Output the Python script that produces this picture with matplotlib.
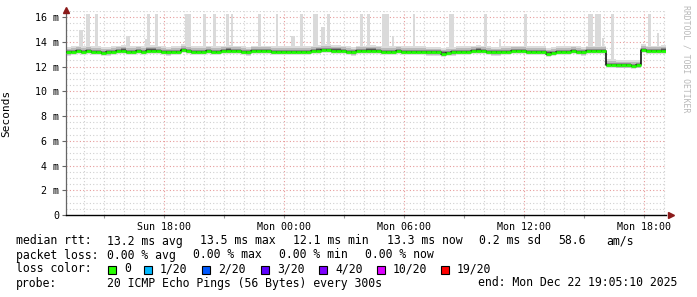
import numpy as np
import matplotlib
matplotlib.use("Agg")
import matplotlib.pyplot as plt
import matplotlib.dates as mdates
from matplotlib.patches import Rectangle
from datetime import datetime, timedelta

# --- data ---
start = datetime(2025, 12, 21, 13, 5, 10)
end = datetime(2025, 12, 22, 19, 5, 10)
step_min = 15

# median rtt per 15 min step (ms)
median_ms = [
    13.15, 13.2, 13.25, 13.2, 13.25, 13.2, 13.2, 13.1, 13.15, 13.2,
    13.25, 13.3, 13.2, 13.2, 13.25, 13.2, 13.3, 13.3, 13.25, 13.2,
    13.15, 13.2, 13.2, 13.35, 13.25, 13.2, 13.2, 13.2, 13.25, 13.2,
    13.2, 13.25, 13.3, 13.25, 13.25, 13.2, 13.15, 13.25, 13.25, 13.25,
    13.25, 13.2, 13.2, 13.2, 13.2, 13.2, 13.2, 13.2, 13.2, 13.25,
    13.3, 13.35, 13.35, 13.3, 13.3, 13.25, 13.2, 13.15, 13.25, 13.25,
    13.3, 13.3, 13.25, 13.2, 13.2, 13.2, 13.25, 13.2, 13.2, 13.2,
    13.2, 13.2, 13.15, 13.15, 13.15, 13.05, 13.1, 13.15, 13.2, 13.2,
    13.2, 13.25, 13.3, 13.25, 13.2, 13.15, 13.15, 13.2, 13.2, 13.25,
    13.25, 13.25, 13.2, 13.2, 13.2, 13.2, 13.05, 13.1, 13.2, 13.2,
    13.2, 13.25, 13.2, 13.15, 13.25, 13.25, 13.25, 13.25, 12.15, 12.15,
    12.1, 12.1, 12.1, 12.05, 12.1, 13.35, 13.25, 13.25, 13.25, 13.3,
]

# spread of the smoke around the median (ms below, ms above), outer to inner
smoke_lo = [0.25, 0.17, 0.1, 0.05]
smoke_hi = [0.45, 0.3, 0.18, 0.1]
smoke_col = ["#dddddd", "#bbbbbb", "#8c8c8c", "#555555"]

# max-ping spikes
spike_at = [
    "2025-12-21 13:50", "2025-12-21 14:11", "2025-12-21 14:36", "2025-12-21 16:11",
    "2025-12-21 17:05", "2025-12-21 17:12", "2025-12-21 17:36", "2025-12-21 19:11",
    "2025-12-21 20:00", "2025-12-21 20:30", "2025-12-21 21:09", "2025-12-21 21:23",
    "2025-12-21 22:45", "2025-12-21 23:38", "2025-12-22 00:26", "2025-12-22 00:51",
    "2025-12-22 01:33", "2025-12-22 01:56", "2025-12-22 02:12", "2025-12-22 03:51",
    "2025-12-22 04:12", "2025-12-22 05:03", "2025-12-22 05:26", "2025-12-22 06:29",
    "2025-12-22 08:21", "2025-12-22 10:03", "2025-12-22 10:47", "2025-12-22 12:03",
    "2025-12-22 15:18", "2025-12-22 15:41", "2025-12-22 15:56", "2025-12-22 16:24",
    "2025-12-22 18:15", "2025-12-22 18:41",
]
spike_width_min = [
    12, 12, 9, 12, 6, 9, 9, 18, 9, 9, 9, 6,
    9, 6, 12, 9, 15, 12, 9, 9, 9, 21, 6, 6,
    15, 9, 6, 9, 15, 18, 6, 9, 9, 6,
]
spike_top_ms = [
    15.0, 16.25, 16.25, 14.5, 14.2, 16.25, 16.25, 16.25, 16.25, 16.25, 16.25, 16.25,
    16.25, 16.25, 14.5, 16.25, 16.25, 15.2, 16.25, 16.25, 16.25, 16.25, 14.5, 16.25,
    16.25, 16.25, 14.2, 16.25, 16.25, 16.25, 14.3, 16.25, 16.25, 14.7,
]

yticks = [0, 2, 4, 6, 8, 10, 12, 14, 16]
xtick_hours = ["Sun 18:00", "Mon 00:00", "Mon 06:00", "Mon 12:00", "Mon 18:00"]

loss_labels = ["0", "1/20", "2/20", "3/20", "4/20", "10/20", "19/20"]
loss_colors = ["#26ff00", "#00b8ff", "#0059ff", "#5e00ff", "#7e00ff", "#dd00ff", "#ff0000"]

W, H = 697, 297
mono = "DejaVu Sans Mono"

fig = plt.figure(figsize=(W / 100, H / 100), dpi=100)
ax = fig.add_axes([66 / W, 1 - 215 / H, 600 / W, 204 / H])

t0 = mdates.date2num(start)
t1 = mdates.date2num(end)
ax.set_xlim(t0, t1)
ax.set_ylim(0, 16.5)

# grid
hour = 1 / 24
first_hour = mdates.date2num(datetime(2025, 12, 21, 14))
for k, t in enumerate(np.arange(first_hour, t1, hour)):
    h = (14 + k) % 24
    major = h % 6 == 0
    ax.axvline(t, color="#e69a9a" if major else "#d0d0d0", lw=0.8,
               ls=(0, (1, 2)), zorder=1)
for v in np.arange(0.5, 16.6, 0.5):
    major = abs(v % 2) < 1e-9
    ax.axhline(v, color="#e69a9a" if major else "#d0d0d0", lw=0.8,
               ls=(0, (1, 2)), zorder=1)

# smoke
edges = [t0 + i * step_min / 1440 for i in range(len(median_ms) + 1)]
med = np.array(median_ms)
med_e = np.append(med, med[-1])
for lo, hi, c in zip(smoke_lo, smoke_hi, smoke_col):
    ax.fill_between(edges, med_e - lo, med_e + hi, step="post",
                    color=c, lw=0, zorder=2)

# spikes
for s, w, top in zip(spike_at, spike_width_min, spike_top_ms):
    tc = mdates.date2num(datetime.strptime(s, "%Y-%m-%d %H:%M"))
    i = min(int((tc - t0) * 1440 / step_min), len(med) - 1)
    base = med[i] + smoke_hi[0]
    ax.bar(tc, top - base, bottom=base, width=w / 1440, color="#dadada",
           lw=0, zorder=2)

# median line
ax.step(edges, med_e, where="post", color="black", lw=1.1, zorder=3)
ax.hlines(med, edges[:-1], edges[1:], color="#1eff00", lw=2.0, zorder=4)

# axes styling
ax.spines["top"].set_visible(False)
ax.spines["right"].set_visible(False)
ax.spines["left"].set_color("#666666")
ax.spines["left"].set_linewidth(0.9)
ax.spines["bottom"].set_color("black")
ax.spines["bottom"].set_linewidth(1.0)
ax.set_facecolor("white")

ax.set_yticks(yticks)
ax.set_yticklabels([("%d m" % v) if v else "0" for v in yticks],
                   fontfamily=mono, fontsize=7.2)
ax.tick_params(axis="y", length=3, width=0.8, color="#666666", pad=2)

major_x = [mdates.date2num(datetime(2025, 12, 21, 18)) + 0.25 * k for k in range(len(xtick_hours))]
ax.set_xticks(major_x)
ax.set_xticklabels(xtick_hours, fontfamily=mono, fontsize=7.2)
minor_x = [mdates.date2num(datetime(2025, 12, 21, 15)) + 0.125 * k for k in range(10)]
ax.set_xticks(minor_x, minor=True)
ax.tick_params(axis="x", which="major", length=2, width=0.8, color="#999999", pad=3)
ax.tick_params(axis="x", which="minor", length=2, width=0.8, color="#999999")

# arrows at the axis ends
ax.plot([0], [1.005], marker="^", ms=4, color="#8b1a1a", transform=ax.transAxes,
        clip_on=False, zorder=6)
ax.plot([1.008], [0], marker=">", ms=4, color="#8b1a1a", transform=ax.transAxes,
        clip_on=False, zorder=6)

ax.set_ylabel("Seconds", fontfamily=mono, fontsize=8, labelpad=6)
ax.yaxis.set_label_coords(-(66 - 11) / 600, 0.5)

fig.text(686 / W, 1 - 59 / H, "RRDTOOL / TOBI OETIKER", rotation=270,
         fontfamily=mono, fontsize=5.9, color="#b8b8b8", ha="center", va="center")

# legend text
def put(x, y, s):
    fig.text(x / W, 1 - y / H, s, fontfamily=mono, fontsize=8.3,
             ha="left", va="center", color="black")

put(16, 241, "median rtt:")
for x, s in zip([107, 200, 293, 386.5, 479, 558, 606.5],
                ["13.2 ms avg", "13.5 ms max", "12.1 ms min", "13.3 ms now",
                 "0.2 ms sd", "58.6", "am/s"]):
    put(x, 241, s)

put(16, 255, "packet loss:")
for x, s in zip([107, 193, 279, 365],
                ["0.00 % avg", "0.00 % max", "0.00 % min", "0.00 % now"]):
    put(x, 255, s)

put(16, 269, "loss color:")
for x, s, c in zip([124, 160, 218, 277, 335, 393, 457], loss_labels, loss_colors):
    fig.patches.append(Rectangle(((x - 16) / W, 1 - 273.5 / H), 8 / W, 8 / H,
                                 transform=fig.transFigure, facecolor=c,
                                 edgecolor="black", lw=0.8))
    put(x, 269, s)

put(16, 283, "probe:")
put(107, 283, "20 ICMP Echo Pings (56 Bytes) every 300s")
put(478, 283, "end: Mon Dec 22 19:05:10 2025")

fig.savefig("out.png", dpi=100)
